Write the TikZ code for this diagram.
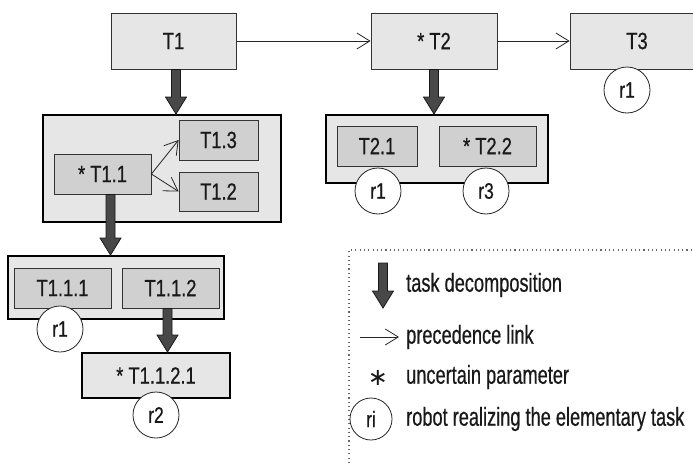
\documentclass[tikz,border=0pt]{standalone}
\usepackage{fontspec}
\setmainfont{Liberation Sans}[FakeStretch=0.78,FakeBold=0.6]
\newfontfamily\legfont{Liberation Sans}[FakeStretch=0.70,FakeBold=0.6]
\newfontfamily\symfont{DejaVu Sans}
\usetikzlibrary{arrows.meta,calc}
\definecolor{lightfill}{RGB}{230,230,230}
\definecolor{midfill}{RGB}{208,208,208}
\definecolor{arrowfill}{RGB}{72,72,72}
\definecolor{textc}{RGB}{25,25,25}
\newcommand\decomparrow[2]{%
  \filldraw[decomp] let \p1=(#1), \p2=(#2) in
    (\x1-4.5pt,\y1) -- (\x1-4.5pt,\y2+17pt) -- (\x1-10.5pt,\y2+17pt) -- (\x1,\y2)
    -- (\x1+10.5pt,\y2+17pt) -- (\x1+4.5pt,\y2+17pt) -- (\x1+4.5pt,\y1) -- cycle;}
\begin{document}
\begin{tikzpicture}[x=1pt,y=-1pt,
  every node/.style={text=textc},
  boxfont/.style={font=\fontsize{23.5}{27}\selectfont},
  task/.style={boxfont, draw=black!80, line width=0.8pt, fill=lightfill, inner sep=0pt},
  subtask/.style={boxfont, draw=black!80, line width=0.8pt, fill=midfill, inner sep=0pt},
  group/.style={draw=black, line width=2pt, fill=lightfill, inner sep=0pt},
  robot/.style={font=\fontsize{22.5}{26}\selectfont, circle, draw=black!85, line width=0.8pt, fill=white, minimum size=46pt, inner sep=0pt},
  decomp/.style={fill=arrowfill, draw=black!90, line width=0.8pt, line join=miter},
  prec/.style={draw=black!85, line width=0.8pt, -{Straight Barb[length=13pt,width=16pt,line width=0.8pt]}},
  legtext/.style={anchor=west, font=\legfont\fontsize{26}{30}\selectfont, inner sep=0pt},
  dots/.style={draw=black!60, line width=1.1pt, dash pattern=on 1.1pt off 3.2pt}
]
\useasboundingbox (0,0) rectangle (693,463);
% top level
\node[task, minimum width=125pt, minimum height=56pt] (T1) at (173.5,41) {T1};
\node[task, minimum width=126pt, minimum height=56pt] (T2) at (434,41) {* T2};
\node[task, minimum width=134pt, minimum height=56pt] (T3) at (637,41) {T3};
\draw[prec] (T1.east) -- (T2.west);
\draw[prec] (T2.east) -- (T3.west);
\node[robot] (R3) at (627,90) {r1};
% group 1
\node[group, minimum width=238pt, minimum height=107pt] (G1) at (162,168.5) {};
\node[subtask, minimum width=97pt, minimum height=40pt] (T11) at (102.5,174) {* T1.1};
\node[subtask, minimum width=79pt, minimum height=40pt] (T13) at (218.5,140) {T1.3};
\node[subtask, minimum width=79pt, minimum height=39pt] (T12) at (218.5,191.5) {T1.2};
\draw[prec] (T11.east) -- (T13.west);
\draw[prec] (T11.east) -- (T12.west);
\decomparrow{[xshift=2.5pt]T1.south}{G1.north}
% group 2 (T2)
\node[group, minimum width=222pt, minimum height=68pt] (G3) at (437,149) {};
\node[subtask, minimum width=80pt, minimum height=40pt] (T21) at (377,146) {T2.1};
\node[subtask, minimum width=97pt, minimum height=40pt] (T22) at (487.5,146) {* T2.2};
\decomparrow{T2.south}{G3.north}
\node[robot] (R21) at (378,191) {r1};
\node[robot] (R22) at (486,191) {r3};
% group T1.1
\node[group, minimum width=216pt, minimum height=63pt] (G2) at (116,287.5) {};
\node[subtask, minimum width=97pt, minimum height=40pt] (T111) at (62.5,288) {T1.1.1};
\node[subtask, minimum width=97pt, minimum height=40pt] (T112) at (170.5,288) {T1.1.2};
\decomparrow{[xshift=8pt]T11.south}{G2.north}
\node[robot] (R111) at (60,329) {r1};
\node[task, draw=black, line width=2pt, minimum width=148pt, minimum height=45pt] (T1121) at (156,375.5) {* T1.1.2.1};
\decomparrow{[xshift=-3pt]T112.south}{T1121.north}
\node[robot] (R1121) at (156,415) {r2};
% legend
\coordinate (LB) at (349,463);
\coordinate (LC) at (349,250);
\coordinate (LR) at (693,250);
\draw[dots] (LB) -- (LC) -- (LR);
\coordinate (LA1) at (383,263);
\coordinate (LA2) at (383,308);
\decomparrow{LA1}{LA2}
\node[legtext] (L1) at (406,285) {task decomposition};
\coordinate (LP1) at (360,337);
\coordinate (LP2) at (399,337);
\draw[prec] (LP1) -- (LP2);
\node[legtext] (L2) at (406,337) {precedence link};
\node[font=\symfont\fontsize{24}{24}\selectfont, inner sep=0pt] (LS) at (378,378) {∗};
\node[legtext] (L3) at (406,377) {uncertain parameter};
\node[robot, minimum size=42pt] (LR1) at (371,419) {ri};
\node[legtext] (L4) at (406,419) {robot realizing the elementary task};
\end{tikzpicture}
\end{document}
